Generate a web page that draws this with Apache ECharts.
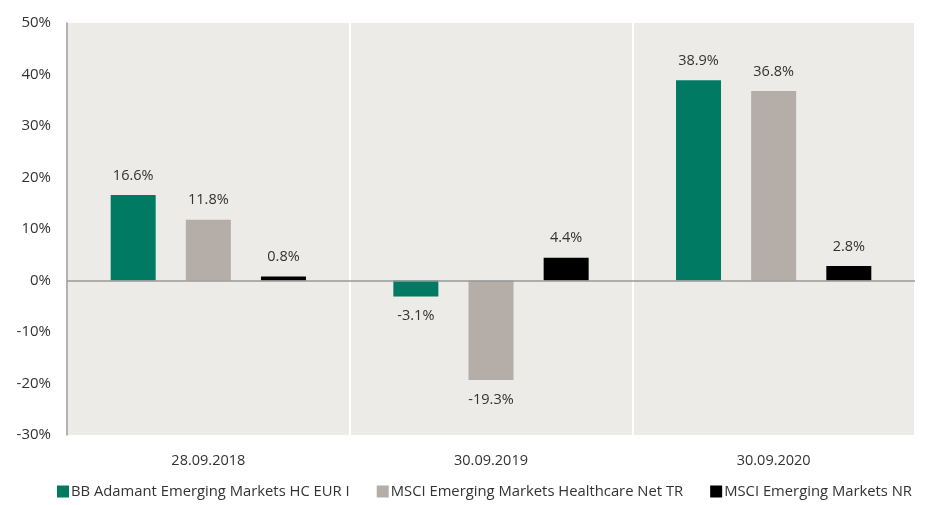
<!DOCTYPE html>
<html>
<head>
<meta charset="utf-8" />
<script src="https://cdn.jsdelivr.net/npm/echarts@6/dist/echarts.min.js"></script>
<style>
  html, body { margin: 0; padding: 0; background: #fff; }
  #main { width: 932px; height: 505px; }
</style>
</head>
<body>
<div id="main"></div>
<script>
  var categories = ['28.09.2018', '30.09.2019', '30.09.2020'];
  var seriesNames = ['BB Adamant Emerging Markets HC EUR I', 'MSCI Emerging Markets Healthcare Net TR', 'MSCI Emerging Markets NR'];
  var fundValues = [16.6, -3.1, 38.9];
  var healthcareValues = [11.8, -19.3, 36.8];
  var emValues = [0.8, 4.4, 2.8];
  var colors = ['#007A63', '#B5ADA7', '#000000'];

  var font = 'Open Sans';
  var myChart = echarts.init(document.getElementById('main'));

  function makeSeries(name, data, color) {
    return {
      name: name,
      type: 'bar',
      // negative values get their label below the bar
      data: data.map(function (v) {
        return v < 0 ? { value: v, label: { position: 'bottom' } } : v;
      }),
      barWidth: 45,
      barGap: '67%',
      itemStyle: { color: color },
      label: {
        show: true,
        position: 'top',
        distance: 12,
        color: '#333',
        fontFamily: font,
        fontSize: 14.5,
        formatter: function (p) { return p.value.toFixed(1) + '%'; }
      }
    };
  }

  var option = {
    animation: false,
    grid: {
      left: 67, right: 17, top: 23, bottom: 70,
      show: true, backgroundColor: '#ECEBE7', borderWidth: 0
    },
    legend: {
      bottom: 1,
      left: 52,
      itemWidth: 12,
      itemHeight: 12,
      itemGap: 27,
      icon: 'rect',
      textStyle: { color: '#333', fontFamily: font, fontSize: 14.8, padding: [0, 0, 0, -3] },
      data: seriesNames
    },
    xAxis: {
      type: 'category',
      data: categories,
      axisLine: { show: false },
      axisTick: { show: false },
      axisLabel: { color: '#333', fontFamily: font, fontSize: 14.5, margin: 18 },
      splitLine: { show: true, lineStyle: { color: '#ffffff', width: 2 } }
    },
    yAxis: {
      type: 'value',
      min: -30,
      max: 50,
      interval: 10,
      axisLine: { show: true, lineStyle: { color: '#999', width: 1.5 } },
      axisTick: { show: false },
      splitLine: { show: false },
      axisLabel: {
        color: '#333', fontFamily: font, fontSize: 15, margin: 16,
        formatter: function (v) { return v + '%'; }
      }
    },
    series: [
      makeSeries(seriesNames[0], fundValues, colors[0]),
      makeSeries(seriesNames[1], healthcareValues, colors[1]),
      makeSeries(seriesNames[2], emValues, colors[2]),
      {
        // zero line
        type: 'line',
        data: [],
        markLine: {
          silent: true,
          symbol: 'none',
          label: { show: false },
          lineStyle: { color: '#999', width: 1.5, type: 'solid' },
          data: [{ yAxis: 0 }]
        }
      }
    ]
  };
  myChart.setOption(option);
</script>
</body>
</html>
